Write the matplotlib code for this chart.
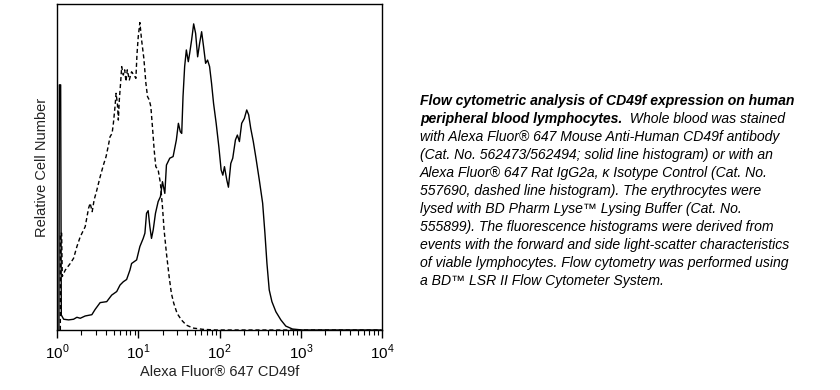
import numpy as np
import matplotlib
matplotlib.use("Agg")
import matplotlib.pyplot as plt
from matplotlib.ticker import LogLocator, NullFormatter, FixedLocator

plt.rcParams["font.family"] = ["Liberation Sans", "DejaVu Sans"]
plt.rcParams["mathtext.fontset"] = "custom"
plt.rcParams["mathtext.rm"] = "Liberation Sans"

# log10 of fluorescence, relative cell number (0-100)
cd49f_log = [0.024, 0.029, 0.045, 0.053, 0.082, 0.143, 0.204, 0.245, 0.286, 0.347,
             0.429, 0.469, 0.531, 0.612, 0.673, 0.735, 0.776, 0.816, 0.857, 0.898,
             0.918, 0.980, 1.020, 1.061, 1.082, 1.102, 1.122, 1.143, 1.163, 1.184,
             1.212, 1.245, 1.273, 1.298, 1.327, 1.347, 1.388, 1.429, 1.469, 1.494,
             1.518, 1.535, 1.551, 1.571, 1.592, 1.616, 1.633, 1.657, 1.682, 1.706,
             1.731, 1.755, 1.780, 1.804, 1.829, 1.853, 1.878, 1.902, 1.927, 1.959,
             1.992, 2.020, 2.041, 2.061, 2.090, 2.110, 2.139, 2.163, 2.196, 2.220,
             2.245, 2.273, 2.306, 2.335, 2.359, 2.384, 2.416, 2.449, 2.490, 2.531,
             2.559, 2.584, 2.612, 2.645, 2.694, 2.755, 2.816, 2.898, 3.02, 3.99]
cd49f_y = [0, 75.2, 75.2, 4.6, 3.3, 3.1, 3.3, 3.9, 3.6, 4.3,
           4.7, 6.3, 8.4, 8.7, 10.7, 11.8, 13.8, 14.8, 15.5, 18.4,
           20.4, 21.5, 25.6, 28.1, 29.7, 35.8, 36.6, 31.7, 28.1, 30.7,
           35.8, 39.4, 40.9, 45.5, 41.9, 50.6, 52.7, 53.2, 58.3, 63.4,
           60.8, 60.3, 71.6, 80.8, 85.9, 82.3, 84.9, 89.0, 93.9, 91.0,
           83.8, 87.9, 91.5, 86.9, 81.8, 82.8, 80.8, 75.7, 69.5, 63.4,
           56.2, 49.1, 47.5, 50.1, 46.0, 43.8, 51.1, 52.7, 58.3, 59.8,
           57.8, 63.4, 64.9, 67.5, 66.0, 61.9, 57.8, 52.7, 46.0, 38.9,
           29.7, 20.4, 12.3, 8.7, 5.6, 3.1, 1.2, 0.3, 0, 0]

iso_log = [0.041, 0.041, 0.057, 0.065, 0.102, 0.163, 0.204, 0.245, 0.286, 0.347,
           0.388, 0.408, 0.433, 0.457, 0.490, 0.531, 0.571, 0.604, 0.633, 0.653,
           0.678, 0.694, 0.714, 0.727, 0.743, 0.755, 0.767, 0.784, 0.796, 0.816,
           0.833, 0.849, 0.865, 0.890, 0.918, 0.947, 0.971, 0.984, 1.000, 1.020,
           1.041, 1.069, 1.094, 1.114, 1.135, 1.155, 1.176, 1.196, 1.216, 1.245,
           1.273, 1.298, 1.318, 1.347, 1.380, 1.408, 1.437, 1.478, 1.531, 1.592,
           1.673, 1.796, 1.96, 3.99]
iso_y = [0, 29.7, 29.7, 16.4, 18.4, 20.4, 22.0, 25.6, 28.6, 31.7,
         37.3, 38.9, 36.3, 39.9, 42.9, 47.0, 50.6, 53.2, 56.7, 59.3,
         60.3, 63.4, 68.5, 72.6, 69.5, 64.4, 70.6, 76.2, 80.8, 78.2,
         79.8, 76.2, 79.8, 76.7, 79.2, 78.2, 77.2, 84.4, 90.0, 94.3,
         89.0, 83.3, 75.7, 71.6, 70.6, 68.5, 61.9, 55.2, 50.1, 49.1,
         45.0, 37.8, 30.7, 23.5, 16.4, 11.2, 8.2, 5.1, 3.1, 1.5,
         0.6, 0.2, 0, 0]

caption = [
    [("Flow cytometric analysis of CD49f expression on human", "bold")],
    [("peripheral blood lymphocytes.", "bold"), ("  Whole blood was stained", "normal")],
    [("with Alexa Fluor® 647 Mouse Anti-Human CD49f antibody", "normal")],
    [("(Cat. No. 562473/562494; solid line histogram) or with an", "normal")],
    [("Alexa Fluor® 647 Rat IgG2a, κ Isotype Control (Cat. No.", "normal")],
    [("557690, dashed line histogram). The erythrocytes were", "normal")],
    [("lysed with BD Pharm Lyse™ Lysing Buffer (Cat. No.", "normal")],
    [("555899). The fluorescence histograms were derived from", "normal")],
    [("events with the forward and side light-scatter characteristics", "normal")],
    [("of viable lymphocytes. Flow cytometry was performed using", "normal")],
    [("a BD™ LSR II Flow Cytometer System.", "normal")],
]

fig = plt.figure(figsize=(8.4, 3.9), dpi=100)
ax = fig.add_axes([57 / 840, 60 / 390, 325 / 840, 326 / 390])

ax.plot(10 ** np.array(cd49f_log), cd49f_y, color="black", lw=1.0)
ax.plot(10 ** np.array(iso_log), iso_y, color="black", lw=1.0, linestyle=(0, (3, 2)))

ax.set_xscale("log")
ax.set_xlim(1, 1e4)
ax.set_ylim(0, 100)
ax.set_yticks([])
ax.xaxis.set_major_locator(FixedLocator([1, 10, 100, 1000, 10000]))
ax.set_xticklabels([r"$10^{0}$", r"$10^{1}$", r"$10^{2}$", r"$10^{3}$", r"$10^{4}$"])
ax.xaxis.set_minor_locator(LogLocator(base=10, subs=np.arange(2, 10)))
ax.xaxis.set_minor_formatter(NullFormatter())
ax.tick_params(axis="x", which="major", direction="out", length=6, width=1,
               labelsize=11, pad=3)
ax.tick_params(axis="x", which="minor", direction="out", length=3.5, width=0.8)
for s in ax.spines.values():
    s.set_linewidth(1.0)

ax.set_xlabel("Alexa Fluor® 647 CD49f", fontsize=10.5, labelpad=2, color="#222222")
ax.set_ylabel("Relative Cell Number", fontsize=10.5, labelpad=6, color="#222222")

fig.canvas.draw()
renderer = fig.canvas.get_renderer()
x0 = 420 / 840
y0 = 1 - 105 / 390
dy = 18 / 390
for i, parts in enumerate(caption):
    x = x0
    y = y0 - i * dy
    for txt, weight in parts:
        t = fig.text(x, y, txt, fontsize=10.1, style="italic", weight=weight,
                     va="baseline", ha="left")
        bb = t.get_window_extent(renderer)
        x = bb.x1 / fig.bbox.width

fig.savefig("out.png", dpi=100)
